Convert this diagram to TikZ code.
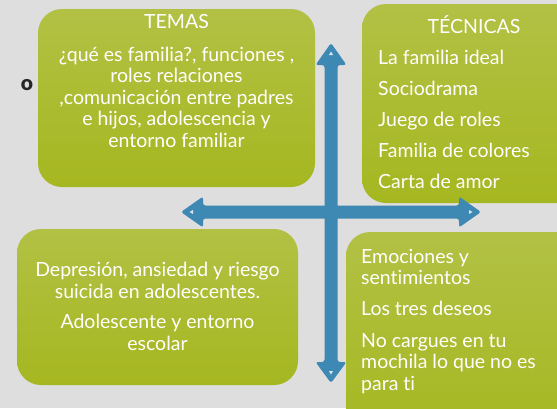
\documentclass[tikz,border=0pt]{standalone}
\usepackage{fontspec}
\setmainfont{Lato}[Ligatures={NoCommon}]
\usetikzlibrary{calc}
\definecolor{bg}{RGB}{222,222,222}
\definecolor{gtop}{RGB}{178,193,68}
\definecolor{gbot}{RGB}{165,183,32}
\definecolor{ablue}{RGB}{62,136,180}
\begin{document}
\begin{tikzpicture}[x=1pt,y=-1pt,
  gbox/.style={draw=none,rounded corners=24pt,top color=gtop,bottom color=gbot},
  wtxt/.style={text=white,font=\fontsize{19.5}{21.5}\selectfont,inner sep=0pt},
  arrowfill/.style={fill=ablue,draw=none,rounded corners=2.5pt},
  spark/.style={fill=white,fill opacity=0.8,draw=none}]
\fill[bg] (0,0) rectangle (557,408);
\useasboundingbox (0,0) rectangle (557,408);
% boxes
\path[gbox] (38,9) rectangle (315,187);
\path[gbox] (362,4) rectangle (590,203);
\path[gbox] (17,229) rectangle (298,385);
\path[gbox] (346,232) rectangle (590,440);
% TEMAS text
\node[wtxt,anchor=base] (temas) at (176.5,28) {TEMAS};
\node[wtxt,anchor=base] (t1) at (176.5,61) {¿qué es familia?, funciones ,};
\node[wtxt,anchor=base] (t2) at (176.5,82.5) {roles relaciones};
\node[wtxt,anchor=base] (t3) at (176.5,104) {,comunicación entre padres};
\node[wtxt,anchor=base] (t4) at (176.5,125.5) {e hijos, adolescencia y};
\node[wtxt,anchor=base] (t5) at (176.5,147) {entorno familiar};
% TECNICAS
\node[wtxt,anchor=base] (tec) at (474,33) {TÉCNICAS};
\node[wtxt,anchor=base west] (c1) at (378,64) {La familia ideal};
\node[wtxt,anchor=base west] (c2) at (378,95) {Sociodrama};
\node[wtxt,anchor=base west] (c3) at (378,126) {Juego de roles};
\node[wtxt,anchor=base west] (c4) at (378,157) {Familia de colores};
\node[wtxt,anchor=base west] (c5) at (378,188) {Carta de amor};
% bottom left
\node[wtxt,anchor=base] (b1) at (157.5,276) {Depresión, ansiedad y riesgo};
\node[wtxt,anchor=base] (b2) at (157.5,298) {suicida en adolescentes.};
\node[wtxt,anchor=base] (b3) at (157.5,328) {Adolescente y entorno};
\node[wtxt,anchor=base] (b4) at (157.5,350) {escolar};
% bottom right
\node[wtxt,anchor=base west] (r1) at (361,263) {Emociones y};
\node[wtxt,anchor=base west] (r2) at (361,284) {sentimientos};
\node[wtxt,anchor=base west] (r3) at (361,315) {Los tres deseos};
\node[wtxt,anchor=base west] (r4) at (361,347) {No cargues en tu};
\node[wtxt,anchor=base west] (r5) at (361,368) {mochila lo que no es};
\node[wtxt,anchor=base west] (r6) at (361,390) {para ti};
% o
\node[font=\fontspec{Lato Black}\fontsize{21}{21}\selectfont,text=black!85,inner sep=0pt] (o) at (27,85) {o};
% arrows
\path[arrowfill] (331,43) -- (346.5,65) -- (337.5,65) -- (337.5,362) -- (346.5,362) -- (331,383)
  -- (315.5,362) -- (324.5,362) -- (324.5,65) -- (315.5,65) -- cycle;
\path[arrowfill] (181,212) -- (203,196.5) -- (203,205.5) -- (459,205.5) -- (459,196.5) -- (481,212)
  -- (459,227.5) -- (459,218.5) -- (203,218.5) -- (203,227.5) -- cycle;
\path[arrowfill] (324.5,205.5) rectangle (337.5,218.5);
% sparkles
\fill[spark] (331,51.5) -- (333,55) -- (329,55) -- cycle;
\fill[spark] (331,374.5) -- (333,371) -- (329,371) -- cycle;
\fill[spark] (189.5,212) -- (193,210) -- (193,214) -- cycle;
\fill[spark] (472.5,212) -- (469,210) -- (469,214) -- cycle;
\end{tikzpicture}
\end{document}
